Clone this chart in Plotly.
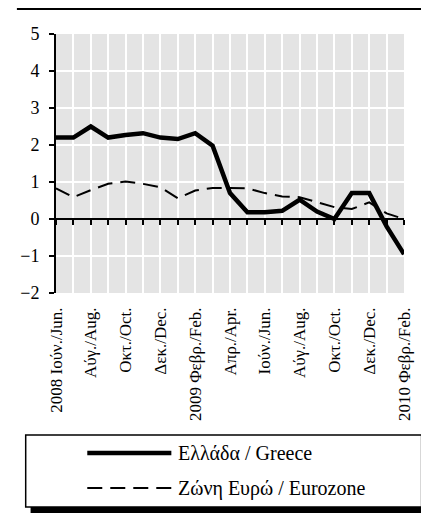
import plotly.graph_objects as go

# ---- data ----
months = list(range(21))  # Jun 2008 .. Feb 2010, monthly
tick_positions = [0, 2, 4, 6, 8, 10, 12, 14, 16, 18, 20]
tick_labels = ["2008 Ιούν./Jun.", "Αύγ./Aug.", "Οκτ./Oct.", "Δεκ./Dec.",
               "2009 Φεβρ./Feb.", "Απρ./Apr.", "Ιούν./Jun.", "Αύγ./Aug.",
               "Οκτ./Oct.", "Δεκ./Dec.", "2010 Φεβρ./Feb."]
greece = [2.2, 2.2, 2.5, 2.2, 2.27, 2.32, 2.2, 2.16, 2.32, 1.98, 0.7,
          0.18, 0.18, 0.22, 0.52, 0.2, 0.0, 0.7, 0.7, -0.2, -0.95]
eurozone = [0.83, 0.59, 0.78, 0.95, 1.01, 0.95, 0.86, 0.56, 0.77, 0.84, 0.84,
            0.83, 0.7, 0.61, 0.59, 0.45, 0.32, 0.27, 0.45, 0.15, 0.0]
series_names = ["Ελλάδα / Greece", "Ζώνη Ευρώ / Eurozone"]
y_ticks = [-2, -1, 0, 1, 2, 3, 4, 5]

# ---- geometry (page has an 8px body margin) ----
OX, OY = 8, 8
W_FIG, H_FIG = 429 - OX, 520 - OY
L, R, T, B = 48 - OX, 25, 34 - OY, 227
PW, PH = W_FIG - L - R, H_FIG - T - B
FONT = "Liberation Serif, Times New Roman, serif"

def fx(px):
    return (px - OX - L) / PW

def fy(py):
    return (T + PH - (py - OY)) / PH

greece_line = dict(color="black", width=4.5)
euro_line = dict(color="black", width=2, dash="15px,8px")

fig = go.Figure()
fig.add_trace(go.Scatter(x=months, y=eurozone, mode="lines", name=series_names[1],
                         line=euro_line, xaxis="x2", yaxis="y"))
fig.add_trace(go.Scatter(x=months, y=greece, mode="lines", name=series_names[0],
                         line=greece_line, xaxis="x", yaxis="y"))

ymin, ymax = -2, 5
zero_pos = (0 - ymin) / (ymax - ymin)

fig.update_layout(
    width=W_FIG, height=H_FIG,
    margin=dict(l=L, r=R, t=T, b=B, pad=0),
    paper_bgcolor="white",
    plot_bgcolor="#e4e4e4",
    showlegend=False,
    font=dict(family=FONT, size=14, color="black"),
    xaxis=dict(range=[0, 20], tickmode="array", tickvals=tick_positions,
               ticktext=tick_labels, tickangle=-90, showgrid=False,
               zeroline=False, showline=False, ticks="",
               ticklabelstandoff=10,
               tickfont=dict(family=FONT, size=17)),
    xaxis2=dict(range=[0, 20], overlaying="x", anchor="free", position=zero_pos,
                side="bottom", showline=True, linecolor="black", linewidth=2,
                ticks="outside", ticklen=5, tickwidth=1.5, tickcolor="black",
                dtick=1, tick0=0, showticklabels=False, showgrid=True,
                gridcolor="white", gridwidth=2, zeroline=False),
    yaxis=dict(range=[ymin, ymax], tickvals=y_ticks, showgrid=True,
               gridcolor="white", gridwidth=2, zeroline=False,
               showline=True, linecolor="black", linewidth=2,
               ticks="outside", ticklen=5, tickwidth=1.5, tickcolor="black",
               ticklabelstandoff=6,
               tickfont=dict(family=FONT, size=18)),
)

shapes = []
# top rule
shapes.append(dict(type="line", xref="paper", yref="paper", x0=fx(8), x1=fx(429),
                   y0=fy(9), y1=fy(9), line=dict(color="black", width=2)))
# legend shadow and box
shapes.append(dict(type="rect", xref="paper", yref="paper", x0=fx(22), x1=fx(428),
                   y0=fy(513), y1=fy(440), fillcolor="black", line=dict(width=0)))
shapes.append(dict(type="rect", xref="paper", yref="paper", x0=fx(17), x1=fx(422),
                   y0=fy(507), y1=fy(435), fillcolor="white",
                   line=dict(color="black", width=1.5)))
# legend samples
shapes.append(dict(type="line", xref="paper", yref="paper", x0=fx(80), x1=fx(166),
                   y0=fy(453), y1=fy(453), line=greece_line))
shapes.append(dict(type="line", xref="paper", yref="paper", x0=fx(80), x1=fx(166),
                   y0=fy(488), y1=fy(488), line=euro_line))
fig.update_layout(shapes=shapes)

for name, py in [(series_names[0], 453), (series_names[1], 488)]:
    fig.add_annotation(xref="paper", yref="paper", x=fx(171), y=fy(py),
                       xanchor="left", yanchor="middle", text=name,
                       showarrow=False, font=dict(family=FONT, size=20, color="black"))

fig.write_html("out.html")
